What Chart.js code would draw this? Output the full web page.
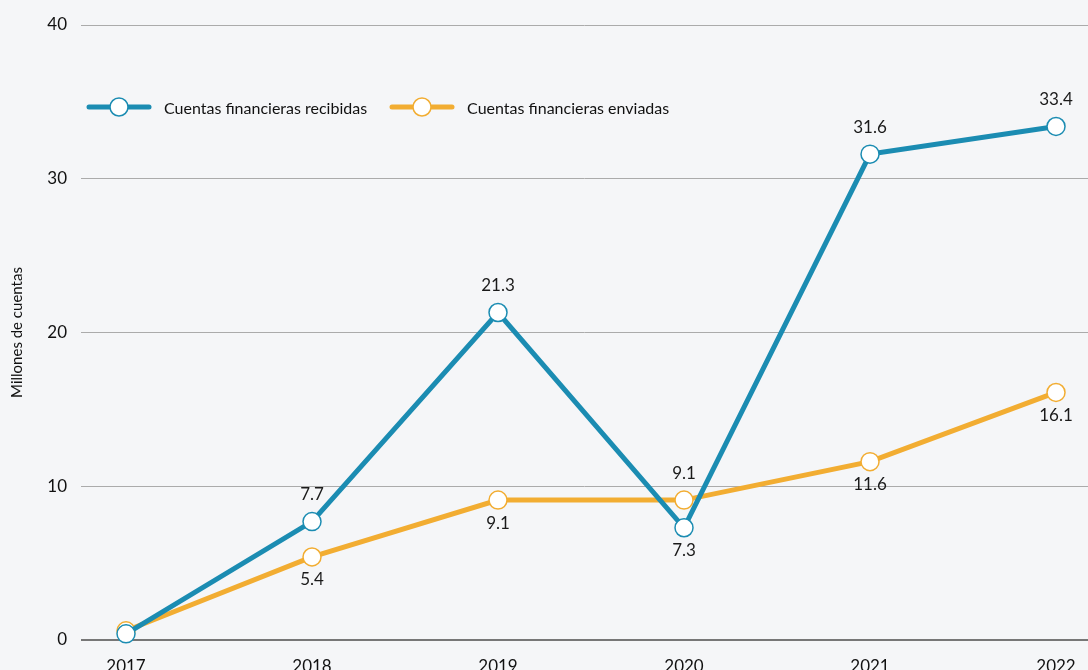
<!DOCTYPE html>
<html>
<head>
<meta charset="utf-8">
<script src="https://cdn.jsdelivr.net/npm/chart.js@4.4.0/dist/chart.umd.min.js"></script>
<style>
  html, body { margin: 0; padding: 0; background: #f5f6f8; overflow: hidden; }
  #wrap { position: relative; width: 1088px; height: 676px; }
  #legend { position: absolute; left: 86px; top: 96px; display: flex; font-family: Lato, sans-serif; font-size: 16px; color: #111; }
  .item { display: flex; align-items: center; margin-right: 22px; }
  .item svg { margin-right: 12px; }
</style>
</head>
<body>
<div id="wrap">
  <canvas id="grafico" width="1088" height="676"></canvas>
  <div id="legend"></div>
</div>
<script>
const anos = [2017, 2018, 2019, 2020, 2021, 2022];
const recibidas = [0.4, 7.7, 21.3, 7.3, 31.6, 33.4];
const enviadas = [0.6, 5.4, 9.1, 9.1, 11.6, 16.1];
// posicion de la etiqueta de cada punto (null = sin etiqueta)
const pos_recibidas = [null, 'arriba', 'arriba', 'abajo', 'arriba', 'arriba'];
const pos_enviadas = [null, 'abajo', 'abajo', 'arriba', 'abajo', 'abajo'];
const y_ticks = [0, 10, 20, 30, 40];

const azul = '#1b8cb2';
const naranja = '#f2ad32';
const fuente = 'Lato, sans-serif';

const etiquetas = {
  id: 'etiquetas',
  afterDatasetsDraw(chart) {
    const c = chart.ctx;
    c.save();
    c.font = '17px ' + fuente;
    c.fillStyle = '#1a1a1a';
    c.textAlign = 'center';
    c.textBaseline = 'middle';
    chart.data.datasets.forEach((ds, i) => {
      chart.getDatasetMeta(i).data.forEach((p, j) => {
        const lado = ds.posiciones[j];
        if (!lado) return;
        const dy = lado === 'arriba' ? -27 : 23;
        c.fillText(ds.data[j].y.toFixed(1), p.x, p.y + dy);
      });
    });
    c.restore();
  }
};

const serie = (label, vals, color, posiciones) => ({
  label,
  data: anos.map((a, i) => ({ x: a, y: vals[i] })),
  posiciones,
  borderColor: color,
  borderWidth: 5,
  pointRadius: 9,
  pointHoverRadius: 9,
  pointBackgroundColor: '#ffffff',
  pointBorderColor: color,
  pointBorderWidth: 1.5,
  tension: 0,
  clip: false
});

const grafico = new Chart(document.getElementById('grafico').getContext('2d'), {
  type: 'line',
  data: {
    datasets: [
      serie('Cuentas financieras recibidas', recibidas, azul, pos_recibidas),
      serie('Cuentas financieras enviadas', enviadas, naranja, pos_enviadas)
    ]
  },
  options: {
    responsive: false,
    animation: false,
    layout: { autoPadding: false, padding: { top: 25, right: 0, left: 0, bottom: 0 } },
    plugins: { legend: { display: false }, tooltip: { enabled: false } },
    scales: {
      x: {
        type: 'linear',
        min: 2016.758,
        max: 2022.172,
        grid: { display: false },
        border: { display: false },
        afterBuildTicks: s => { s.ticks = anos.map(v => ({ value: v })); },
        afterFit: s => { s.height = 36; s.paddingLeft = 0; s.paddingRight = 0; },
        ticks: {
          padding: 8,
          color: '#111',
          autoSkip: false,
          maxRotation: 0,
          font: { family: fuente, size: 17 },
          callback: v => String(v)
        }
      },
      y: {
        min: 0,
        max: 40,
        afterBuildTicks: s => { s.ticks = y_ticks.map(v => ({ value: v })); },
        afterFit: s => { s.width = 81; },
        border: { display: false },
        grid: {
          drawTicks: false,
          color: ctx => ctx.tick.value === 0 ? '#777777' : '#ababab',
          lineWidth: ctx => ctx.tick.value === 0 ? 2 : 1
        },
        ticks: {
          padding: 14,
          color: '#111',
          font: { family: fuente, size: 17 }
        },
        title: {
          display: true,
          text: 'Millones de cuentas',
          color: '#111',
          font: { family: fuente, size: 15 },
          padding: { top: 8, bottom: 0 }
        }
      }
    }
  },
  plugins: [etiquetas]
});

// leyenda en html
const leyenda = document.getElementById('legend');
grafico.data.datasets.forEach(ds => {
  const d = document.createElement('div');
  d.className = 'item';
  d.innerHTML = `<svg width="66" height="22"><line x1="3" y1="11" x2="63" y2="11" stroke="${ds.borderColor}" stroke-width="5" stroke-linecap="round"/>` +
    `<circle cx="33" cy="11" r="9" fill="#fff" stroke="${ds.borderColor}" stroke-width="1.5"/></svg><span>${ds.label}</span>`;
  leyenda.appendChild(d);
});
</script>
</body>
</html>
